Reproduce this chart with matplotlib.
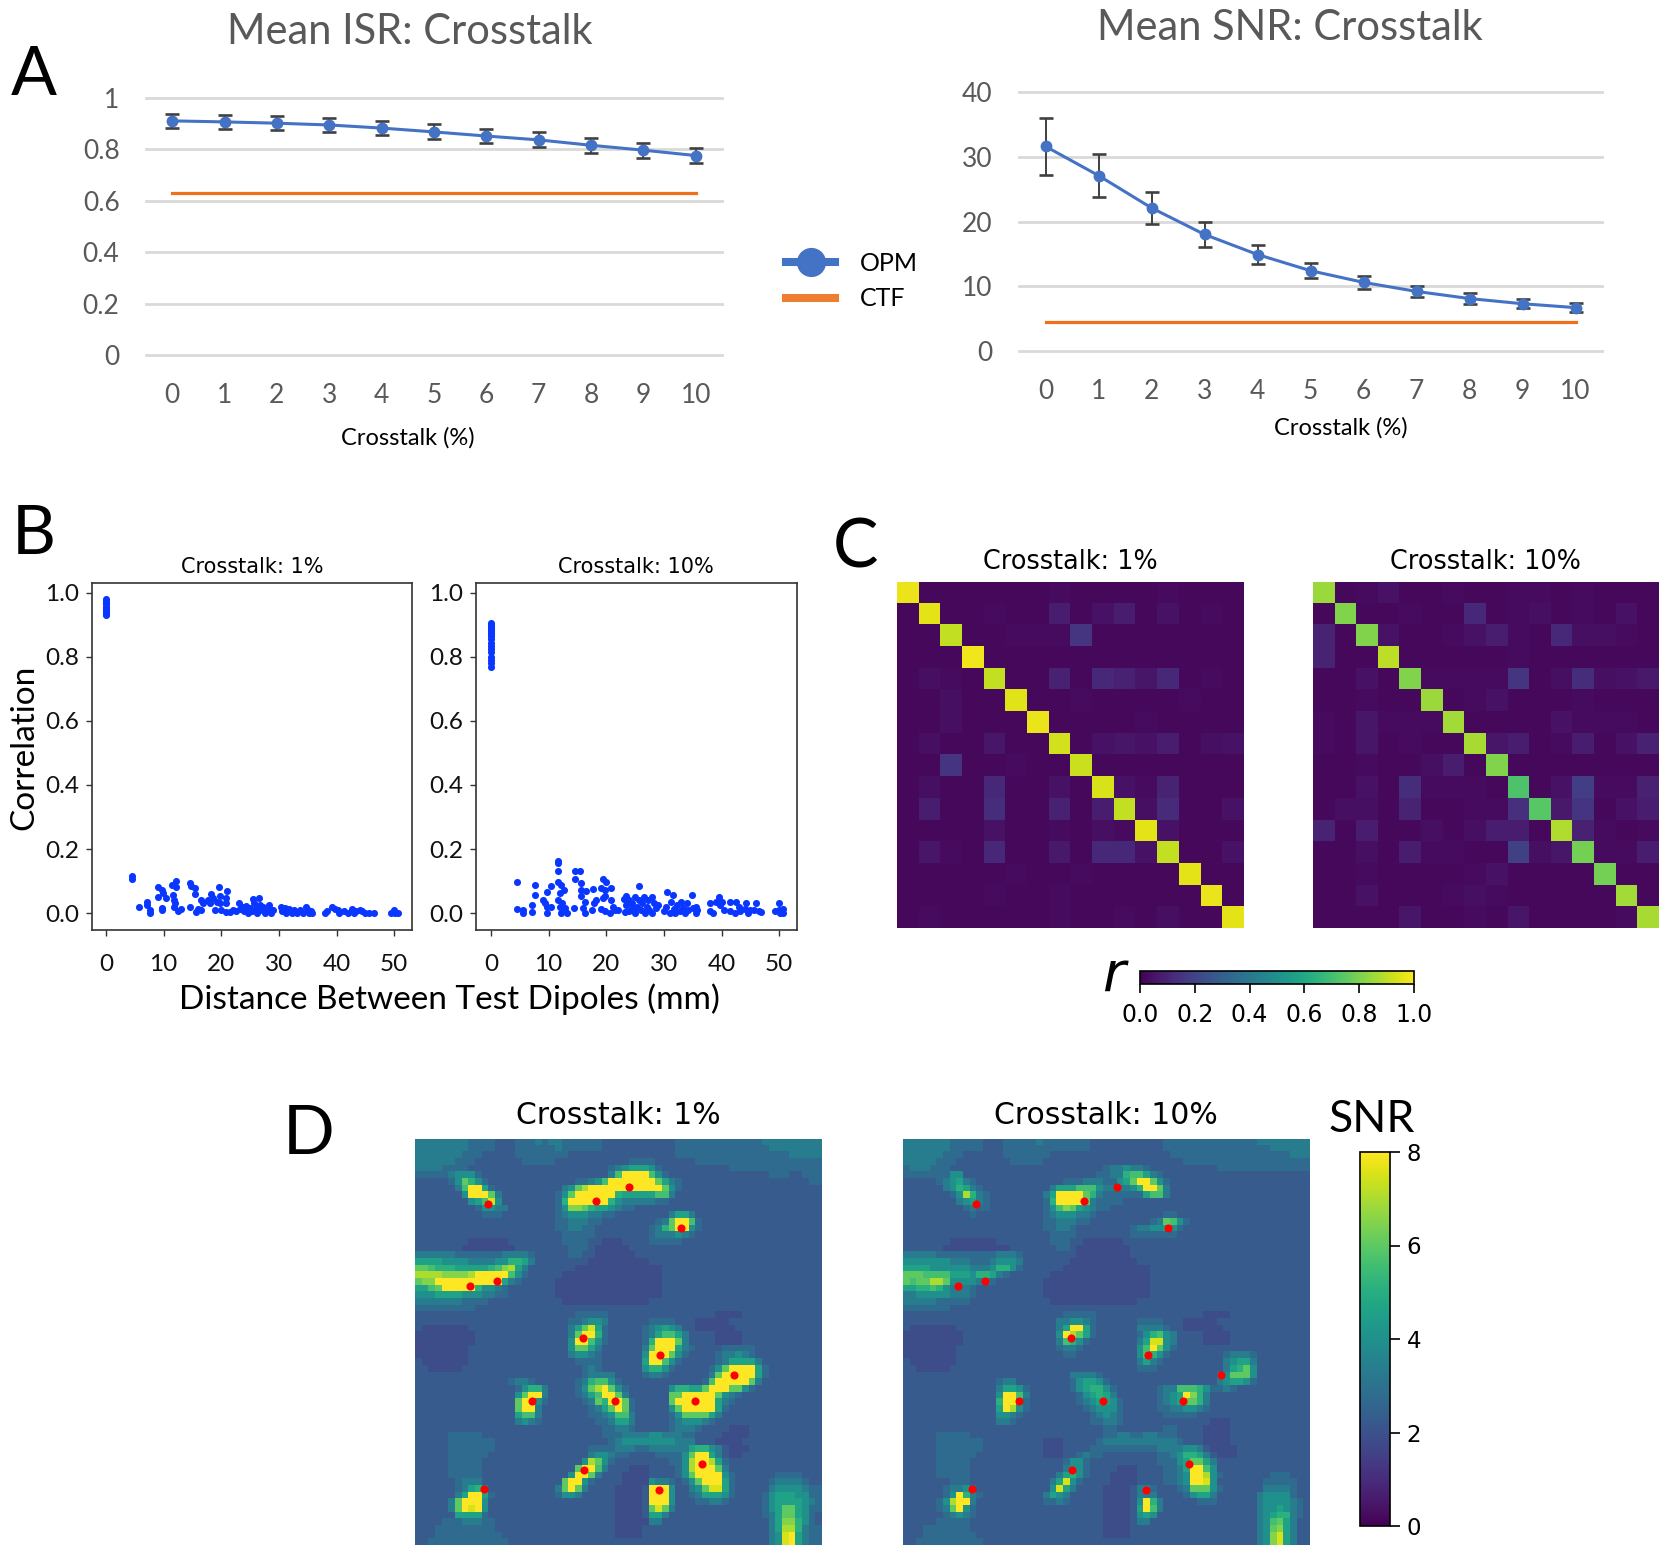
"""
plot.py
--------
Four panel crosstalk figure: ISR / SNR curves, correlation scatter,
correlation matrices and SNR maps.
"""

import matplotlib
matplotlib.use("Agg")

import matplotlib.pyplot as plt
import numpy as np
from matplotlib.lines import Line2D

FIG_W = 1666
FIG_H = 1555

CROSSTALK = [0, 1, 2, 3, 4, 5, 6, 7, 8, 9, 10]

ISR_OPM = [0.911, 0.907, 0.902, 0.895, 0.883, 0.868, 0.852, 0.837, 0.816, 0.797, 0.776]
ISR_ERR = [0.027, 0.027, 0.027, 0.027, 0.028, 0.029, 0.029, 0.029, 0.029, 0.029, 0.029]
ISR_CTF = [0.63] * 11

SNR_OPM = [31.6, 27.1, 22.1, 18.0, 14.9, 12.4, 10.6, 9.2, 8.1, 7.3, 6.7]
SNR_ERR = [4.4, 3.3, 2.45, 1.9, 1.5, 1.2, 1.0, 0.9, 0.8, 0.7, 0.65]
SNR_CTF = [4.55] * 11

ISR_TICKS = [0, 0.2, 0.4, 0.6, 0.8, 1]
ISR_TICK_LABELS = ["0", "0.2", "0.4", "0.6", "0.8", "1"]
SNR_TICKS = [0, 10, 20, 30, 40]

DIST_1 = [0, 0, 0, 0, 0, 0, 0, 0, 0, 0,
          4.5, 4.5, 5.7, 7.2, 7.2, 7.6, 7.6, 9.0, 9.0, 9.7, 9.7, 9.7, 9.9, 10.4,
          11.5, 11.6, 11.75, 11.75, 12.2, 12.2, 12.0, 12.5, 13.1, 14.5, 14.6, 14.7,
          15.45, 15.45, 15.7, 16.0, 16.4, 16.55, 16.8, 17.7, 18.1, 18.3, 18.6, 19.0,
          19.2, 19.6, 19.7, 19.7, 20.0, 20.8, 20.9, 21.0, 20.9, 21.5,
          22, 22.5, 23, 23.3, 23.7, 24, 24.3, 24.6, 25, 25.3, 25.5, 25.7, 26, 26.2,
          26.5, 26.8, 27, 27.3, 27.6, 28, 28.2, 28.4, 28.7, 29, 30.3, 30.6, 31, 31.3,
          31.8, 32.2, 32.7, 33.2, 33.7, 34.2, 34.7, 35, 35.3, 35.8, 35.5,
          38, 38.3, 39.2, 39.7, 40.3, 40.5, 41.3, 42, 42.7, 43, 43.3, 44, 44.5, 45,
          45.7, 46.5, 49.5, 50, 50.2, 50.6]
CORR_1 = [0.93, 0.935, 0.94, 0.945, 0.95, 0.955, 0.965, 0.97, 0.975, 0.98,
          0.115, 0.106, 0.02, 0.036, 0.026, 0.008, 0, 0.081, 0.05, 0.073, 0.016, 0.008, 0.063, 0.047,
          0.088, 0.057, 0.04, 0.019, 0.099, 0.08, 0.031, 0.005, 0.012, 0.018, 0.094, 0.085,
          0.078, 0.059, 0.002, 0.012, 0.01, 0.042, 0.031, 0.042, 0.031, 0.06, 0.047, 0.01,
          0.036, 0.081, 0.052, 0.031, 0.01, 0.047, 0.031, 0.07, 0.002, 0.002,
          0.01, 0.005, 0.03, 0.012, 0.02, 0.005, 0.022, 0, 0.015, 0.005, 0.045, 0.03, 0.012, 0,
          0.047, 0.025, 0.008, 0.018, 0, 0.005, 0.025, 0.012, 0, 0.008, 0.02, 0.005, 0.015, 0,
          0.012, 0, 0.01, 0, 0.008, 0, 0.018, 0.008, 0, 0, 0.006,
          0, 0.005, 0.018, 0.012, 0.008, 0, 0.005, 0, 0.012, 0, 0.005, 0.008, 0.005, 0,
          0, 0, 0, 0.008, 0, 0]

DIST_10 = [0] * 18 + [
    4.5, 4.5, 5.6, 5.6, 7.1, 7.1, 7.6, 7.6, 9, 9.3, 9.7, 9.7, 9.7, 10.5, 10.5,
    11.6, 11.6, 11.7, 11.7, 11.9, 11.6, 12.1, 12, 12.1, 12.4, 12.7, 12.9, 13.2, 14.4,
    14.5, 14.6, 15.4, 15.7, 15.7, 15.7, 16, 16.3, 16.3, 16.5,
    17.6, 17.65, 17.9, 18.3, 19.1, 19.1, 19.4, 19.5, 20, 19.8, 19.8, 19.8, 20.8, 20.9,
    20.7, 21.1, 21.5, 22.1, 23, 23.4, 23.3,
    23.5, 24, 24, 24.5, 24.5, 25, 25, 25.3, 25.6, 25.7, 26, 26.2, 26.5, 26.8, 27, 27.2,
    27.5, 28, 28, 28.3, 28.6, 29, 30, 30.3, 30.5, 31, 31.3, 31.5, 31.8, 32, 32.3, 32.8,
    33, 33.3, 33.6, 34, 34.2, 34.8, 35, 35.5, 35.6, 35.7,
    38, 38, 38.5, 39, 39.5, 39.8, 40, 40.5, 41.5, 41.5, 42.3, 42.5, 43, 43.2, 44, 44.3,
    44.6, 45, 45.7, 46, 46.5, 46.8, 49.2, 50, 50, 50.2, 50.7, 50.7]
CORR_10 = [0.77, 0.78, 0.79, 0.80, 0.815, 0.825, 0.835, 0.845, 0.855, 0.865, 0.87, 0.875,
           0.88, 0.885, 0.89, 0.895, 0.90, 0.905,
           0.096, 0.014, 0.008, 0, 0.024, 0.003, 0.089, 0.055, 0.04, 0.03, 0.066, 0, 0.019, 0.086, 0.019,
           0.161, 0.156, 0.13, 0.096, 0.063, 0.04, 0.089, 0.02, 0, 0.031, 0.073, 0.016, 0, 0.016,
           0.13, 0.106, 0.13, 0.094, 0.073, 0.052, 0.016, 0.033, 0, 0.07,
           0.01, 0.075, 0.031, 0.042, 0.078, 0.014, 0.047, 0.106, 0.096, 0.005, 0.073, 0.052, 0.042, 0.078,
           0, 0.02, 0.01, 0.01, 0.044, 0.052, 0.003,
           0.025, 0.04, 0.005, 0.015, 0.03, 0.05, 0, 0.02, 0.085, 0.04, 0.01, 0.03, 0.05, 0, 0.02, 0.04,
           0.008, 0.05, 0, 0.03, 0.015, 0.025, 0.005, 0.02, 0.065, 0, 0.035, 0.055, 0.012, 0, 0.025, 0.005,
           0.035, 0.015, 0, 0.03, 0.01, 0.055, 0.015, 0.02, 0, 0.008,
           0.03, 0.005, 0, 0.035, 0.05, 0.025, 0.035, 0.01, 0.035, 0.005, 0, 0.035, 0.02, 0.005, 0.012, 0.03,
           0, 0.01, 0.008, 0.03, 0.005, 0.002, 0.005, 0.03, 0.01, 0, 0.012, 0]

SCATTER_YTICKS = [0.0, 0.2, 0.4, 0.6, 0.8, 1.0]
SCATTER_XTICKS = [0, 10, 20, 30, 40, 50]

# correlation in percent
CORR_MATRIX_1 = [
    [97, 2, 2, 2, 2, 2, 2, 3, 2, 2, 2, 2, 3, 2, 2, 2],
    [2, 96, 2, 2, 3, 2, 2, 8, 2, 5, 8, 2, 5, 2, 3, 2],
    [2, 2, 91, 2, 2, 3, 3, 3, 15, 2, 2, 2, 2, 2, 2, 2],
    [2, 2, 2, 98, 2, 2, 2, 2, 2, 2, 2, 2, 2, 2, 2, 2],
    [2, 4, 3, 2, 91, 2, 2, 9, 2, 11, 9, 6, 11, 2, 3, 2],
    [2, 2, 4, 2, 2, 95, 2, 2, 3, 2, 2, 2, 2, 3, 2, 2],
    [2, 2, 4, 2, 2, 2, 97, 2, 2, 2, 2, 3, 2, 2, 2, 2],
    [2, 4, 2, 2, 6, 2, 2, 93, 2, 5, 6, 5, 8, 2, 4, 5],
    [2, 2, 15, 2, 2, 3, 2, 2, 92, 2, 2, 2, 2, 2, 2, 2],
    [2, 4, 2, 2, 11, 2, 2, 5, 2, 94, 5, 3, 10, 2, 2, 2],
    [2, 8, 2, 2, 13, 2, 2, 9, 2, 8, 91, 4, 12, 2, 2, 5],
    [2, 2, 2, 2, 5, 2, 2, 3, 2, 4, 3, 96, 5, 2, 2, 2],
    [2, 6, 3, 2, 11, 2, 2, 7, 2, 11, 11, 5, 91, 2, 2, 5],
    [2, 2, 2, 2, 2, 3, 2, 2, 3, 2, 2, 2, 2, 96, 2, 2],
    [2, 2, 2, 2, 3, 2, 2, 3, 2, 2, 2, 2, 2, 2, 97, 2],
    [2, 3, 2, 2, 2, 2, 2, 3, 2, 2, 3, 2, 4, 2, 2, 96],
]
CORR_MATRIX_10 = [
    [85, 2, 3, 5, 2, 2, 3, 2, 2, 3, 3, 2, 3, 2, 2, 2],
    [2, 81, 2, 2, 3, 2, 2, 11, 2, 3, 4, 2, 3, 2, 5, 2],
    [10, 2, 81, 5, 2, 2, 3, 5, 8, 3, 2, 11, 4, 4, 3, 2],
    [10, 2, 2, 90, 2, 2, 2, 2, 2, 3, 2, 2, 2, 2, 2, 2],
    [2, 2, 5, 2, 81, 3, 3, 3, 3, 15, 2, 4, 13, 4, 5, 7],
    [2, 2, 3, 2, 2, 85, 2, 3, 5, 2, 2, 2, 3, 2, 2, 2],
    [3, 2, 6, 3, 3, 3, 86, 2, 2, 2, 2, 5, 3, 3, 3, 2],
    [3, 2, 6, 2, 3, 2, 2, 87, 6, 8, 2, 3, 8, 2, 5, 9],
    [2, 2, 3, 2, 2, 4, 8, 2, 81, 2, 2, 2, 2, 2, 2, 2],
    [2, 2, 5, 2, 13, 3, 3, 3, 2, 72, 2, 5, 18, 3, 3, 9],
    [2, 4, 4, 2, 10, 2, 2, 3, 3, 14, 74, 7, 15, 2, 5, 8],
    [10, 2, 8, 2, 2, 4, 2, 4, 8, 8, 2, 88, 9, 3, 2, 3],
    [2, 2, 4, 2, 8, 3, 3, 2, 2, 19, 4, 6, 79, 3, 3, 8],
    [2, 2, 3, 2, 2, 2, 2, 3, 5, 2, 2, 2, 2, 79, 2, 2],
    [2, 2, 5, 2, 2, 2, 3, 4, 3, 2, 2, 2, 2, 2, 86, 2],
    [2, 2, 2, 2, 6, 2, 2, 3, 2, 6, 2, 2, 2, 2, 3, 87],
]

# SNR maps read cell by cell, one character per cell, see SNR_CODES
SNR_CODES = "456789abcdefg"
SNR_LEVELS = [1.9, 2.3, 2.8, 3.4, 4.0, 4.6, 5.1, 5.6, 6.0, 6.5, 7.0, 7.5, 8.0]

SNR_ROWS_1 = [
    "7777777766 6655566676 7766666655 5555555556 6666666666 66777777777",
    "7777777766 6655566666 6766666655 5555555556 6666666666 66677777777",
    "7777777666 5555566666 6665555555 5555555556 6666666666 66666677777",
    "7777776665 5555556666 6555555555 5566665555 5566666666 66666666666",
    "7777666655 5555555555 5555555556 7899986555 5555555666 66666666666",
    "6666678886 5555555555 5555555557 bggggb8655 5555555555 55566655666",
    "5555568ca8 6555555555 55556678bg ggggggc976 5555555555 55555555566",
    "5555557bgg 9655555555 5578cegggg gggggggc86 5555555555 55555555555",
    "55555558gg gc75555555 568cgggggg a99999bb75 5555555555 55555555555",
    "5555555589 bf85555555 56agggggga 8777776655 5555555555 55555555555",
    "5555555556 8877555555 568ddca998 7665555555 5555555555 55555555555",
    "5555555555 6665555555 5678887766 5555555579 9755555555 55555555555",
    "5555555555 5555555555 5667776655 55555567cg gb65555555 55555555555",
    "5555555555 5555555555 5667766555 5555567acg g865555555 55555555555",
    "5555555555 5555555555 5566666555 5555567778 7655555555 55555555555",
    "5555555544 4444555555 5566665544 4555566666 5555555555 55555555555",
    "5555555444 4444455555 5556665444 4455555555 5555555555 55555555555",
    "7777776666 6667777655 5556655444 4445555555 5555555555 55555555555",
    "9999888877 7788aa9755 5555554444 4444455555 5555555555 55555555555",
    "ccbaaa9999 9abde97555 5555444444 4444444555 5555555555 55555555555",
    "eeeeddddeg ggggb86555 5544444444 4444444555 5555555555 55555555555",
    "cddggggggg ggg9765555 5444444444 4444444555 5555555555 55555555555",
    "99bcggggga 8876555555 5444444444 4444444555 5555555555 55555555555",
    "8889999888 7766555555 5444444444 4444444555 5555555555 55555555555",
    "7777777666 6555555555 5544444444 4444455555 5555555555 55555555555",
    "6666666665 5555555555 5555555555 5555555555 5555555555 55555555555",
    "5555555555 5555555555 5555666665 5555555555 5555544445 55555555555",
    "5555555555 5555555555 5556678875 5555566665 5544444555 55555555555",
    "5444444455 5555555555 55579cf965 5555678987 5544444455 55555555555",
    "4444444445 5555555555 5557cgga65 5555679bb9 7555544445 55555555555",
    "4444444445 5555555555 5558ggb865 55556agggc 7555544445 55555555555",
    "4444444455 5555555555 5558cc9755 55557cggg9 7655556666 65555555555",
    "4444444455 5555555555 5557887655 55558gggc8 6555567787 65555555555",
    "5444444455 5555555555 5555666655 55559ggb86 5555567999 97555555555",
    "5544444555 5555555555 5555567655 55558aa865 555568cggg g9655555555",
    "5555555555 5555555555 5555567777 5555677655 55557cgggg g9655555555",
    "5555555555 5555677655 555567abb8 6555555555 5556bggggg c7555555555",
    "5555555555 5555568aa7 555568cegc 865555558a a99cgggcc8 65555555555",
    "5555555555 555558cgg7 5555679bgg c7555555cc gggggc8765 55555555555",
    "5555555555 55555cgg86 5555567cag gc655555cg ggggg97655 55555555555",
    "5555555555 55555cgg75 555555679c gc6555558c ggggg96555 55555555555",
    "5555555555 555559bb75 5555556678 bb75555568 cccc975555 55555555555",
    "5555555555 5555578765 5555555667 9975555567 8887655555 55555555555",
    "5555555555 5555555555 5555555566 7765555567 7765555444 55555555555",
    "5555566666 5555555555 5555555566 6777788777 6655554444 55555555555",
    "5555566666 6655555555 5555555556 7888888887 7755544445 55555555555",
    "5555566666 6655555555 5555556666 7776677777 79aa875444 55555555555",
    "5555566666 6555555555 5555557887 6655556666 8cgg975445 55555555555",
    "5555566666 5555555555 555558ec86 5555555566 8egge96555 55555555555",
    "5555566666 5555555555 5555cggb75 5544455556 8egggc7555 55555555555",
    "5555566666 5555555555 5558ggc755 5444455556 8cgggg8655 55556666555",
    "5555556777 5555555555 55cgg86555 5444487765 68cggg9655 55567777655",
    "555555679a 7555555555 57cgc75555 44445ggg85 578cff9655 55578888766",
    "55555579gg 9655555555 5688755555 44445ggg85 5679998655 55689998866",
    "555557cggg 8555555555 5555555555 44445ggg85 5566776555 55689999876",
    "555557cgfg 8555555555 5555555555 44445cfc75 5555555555 55689cc9866",
    "5555559999 6555555555 5555555555 4444599755 5555555555 55679cc9865",
    "5555666777 6655555555 5555555555 4444477555 5555555555 55579dda865",
    "5556666666 6655555555 5555555555 4444555555 5555555555 55579eea766",
    "5556666666 6665555555 5555555555 4444555555 5555555555 55578fg9766",
    "5566666666 6666555555 5555555555 5555555555 5555555555 55578fg9766",
]
SNR_ROWS_10 = [
    "7777777666 6655566666 7666666655 5555555556 6666666666 66677777777",
    "7777777666 6655566666 6666666655 5555555556 6666666666 66666777777",
    "7777776665 5555566666 6655555555 5555555555 6666666666 66666666777",
    "7777766655 5555556666 6555555555 5555555555 5566666666 66666666666",
    "6777666555 5555555555 5555555555 6778776555 5555555666 66666666666",
    "6666666885 5555555555 5555555556 677abb9765 5555555555 55555555555",
    "5555567897 6555555555 5555666777 6689cggc86 5555555555 55555555555",
    "5555557 8a9 7655555555 557999bbb8 77778aggc7 5555555555 55555555555",
    "555555568e a765555555 579ggggca7 6666669bb7 5555555555 55555555555",
    "5555555578 9765555555 56aggggc76 6665555555 5555555555 55555555555",
    "5555555556 7665555555 568bdc9876 6555555555 5555555555 55555555555",
    "5555555555 6555555555 5678887765 5555555556 6555555555 55555555555",
    "5555555555 5555555555 5667776655 555555567c b865555555 55555555555",
    "5555555555 5555555555 5667765555 5555677889 8655555555 55555555555",
    "5555555555 5555555555 5566665555 5555666666 6555555555 55555555555",
    "5555555444 4444555555 5566655444 4445555555 5555555555 55555555555",
    "5555554444 4444445555 5556654444 4444555555 5555555555 55555555555",
    "7777766666 6666777655 5555554444 4444555555 5555555555 55555555555",
    "8888888777 6667888755 5555544444 4444455555 5555555555 55555555555",
    "9999888888 7778aa8655 5555444444 4444444555 5555555555 55555555555",
    "cccbbbb999 8aa9765555 5544444444 4444444555 5555555555 55555555555",
    "cbcceec888 8776555555 5444444444 4444444555 5555555555 55555555555",
    "99aaba8777 6555555555 5444444444 4444444555 5555555555 55555555555",
    "7788888777 6555555555 5444444444 4444444555 5555555555 55555555555",
    "7777766666 5555555555 5544444444 4444455555 5555555555 55555555555",
    "6666666555 5555555555 5555555555 5555555555 5555555555 55555555555",
    "5555555555 5555555555 5555666665 5555555555 5555544445 55555555555",
    "5555555555 5555555555 5557788765 5555566665 5544444555 55555555555",
    "5444444455 5555555555 55579gg965 5555577776 5544444455 55555555555",
    "4444444445 5555555555 5558gec965 5555568ab8 7555544445 55555555555",
    "4444444445 5555555555 5557ba8655 5555579ff8 7555544445 55555555555",
    "4444444455 5555555555 5556776555 555558bgc8 6555555555 55555555555",
    "4444444455 5555555555 5555665555 555558ba86 5555555567 77655555555",
    "5444444455 5555555555 5555555555 5555579765 5555555578 99755555555",
    "5544444555 5555555555 5555555555 5555566655 5555555579 ac855555555",
    "5555555555 5555555555 5555577776 5555555555 555555578c cc855555555",
    "5555555555 5555677555 5555568998 6555555555 5555555789 98655555555",
    "5555555555 5555799865 555556 89aa 8655555567 7bbba86676 55555555555",
    "5555555555 55558ggb75 555555689a 9755555567 89gda75555 55555555555",
    "5555555555 5555agg965 5555556789 9865555567 89cca75555 55555555555",
    "5555555555 55559ge865 5555555678 8865555566 7788765555 55555555555",
    "5555555555 5555887655 5555555567 8765555556 6666555555 55555555555",
    "5555555555 5555776555 5555555566 7765555555 5555554445 55555555555",
    "5555555555 5555555555 5555555555 6655555556 6555544445 55555555555",
    "5555566666 5555555555 5555555555 6677667766 6555544445 55555555555",
    "5555566666 6655555555 5444555556 7777777777 7655544445 55555555555",
    "5555566666 6655555555 5444555566 6666666677 7788754444 55555555555",
    "5555566666 6555555555 5444556766 5555555566 78aa975444 55555555555",
    "5555566666 5555555555 5555688655 5555555566 689cc97555 55555555555",
    "5555566666 5555555555 5555788655 5544455556 679ggb8555 55555555555",
    "5555566666 5555555555 55579a8655 5444455556 678gge8655 55555666555",
    "5555555666 5555555555 5579f86555 5444455556 678ggf8555 55556666655",
    "5555556778 6555555555 558f975555 4444577655 567ccc8655 55557777655",
    "55555568ga 7655555555 5798755555 4444577755 5568997555 55578888655",
    "5555568egg 7555555555 5667655555 444458ga75 5555666555 55578888765",
    "5555567cg8 6555555555 5555555555 444459gb75 5555555555 55578898765",
    "5555556787 6555555555 5555555555 4444589855 5555555555 555789aa765",
    "5555566666 5555555555 5555555555 4444577555 5555555555 55578bc9755",
    "5556666666 5555555555 5555555555 4444555555 5555555555 55578cd9755",
    "5556666666 6555555555 5555555555 4444555555 5555555555 55578df9755",
    "5566666666 6655555555 5555555555 5555555555 5555555555 55578df9755",
]

DIPOLE_COL = [10.4, 26.65, 31.6, 39.35, 7.7, 11.85, 24.7, 36.25, 47.3, 17, 29.5, 41.5, 42.45, 24.9, 36, 9.85]
DIPOLE_ROW = [9.3, 8.85, 6.7, 12.8, 21.6, 20.8, 29.45, 31.9, 35, 38.9, 38.8, 38.9, 48.35, 49.2, 52.3, 52.15]

BLUE = "#4472C4"
ORANGE = "#ED7D31"
GRID = "#D9D9D9"
EXCEL_TEXT = "#595959"
SCATTER_BLUE = "#0A37FF"
EXCEL_FONT = "Lato"


def add_axes_px(fig, left, top, right, bottom):
    return fig.add_axes([left / FIG_W, 1 - bottom / FIG_H,
                         (right - left) / FIG_W, (bottom - top) / FIG_H])


def text_px(fig, x, y, label, **kwargs):
    kwargs.setdefault("ha", "center")
    kwargs.setdefault("va", "center")
    fig.text(x / FIG_W, 1 - y / FIG_H, label, **kwargs)


def parse_snr(rows):
    lookup = dict(zip(SNR_CODES, SNR_LEVELS))
    cells = []
    for row in rows:
        # one typo must not break the grid, rows are padded to the 61 cells
        clean = row.replace(" ", "").ljust(61, "5")[:61]
        cells.append([lookup[c] for c in clean])
    return np.array(cells)


def draw_curve(ax, opm, err, ctf, ticks, tick_labels, ymax):
    ax.errorbar(CROSSTALK, opm, yerr=err, color=BLUE, lw=2.2, marker="o", ms=7.5,
                ecolor="#404040", elinewidth=1.4, capsize=5.2, capthick=1.9,
                clip_on=False, zorder=3)
    ax.plot(CROSSTALK, ctf, color="#F0701A", lw=2.3, zorder=2, clip_on=False)
    ax.set_xlim(-0.5, 10.5)
    ax.set_ylim(0, ymax)
    ax.set_xticks(CROSSTALK)
    ax.set_yticks(ticks)
    ax.set_yticklabels(tick_labels)
    ax.grid(axis="y", color=GRID, lw=2.0, clip_on=False)
    ax.set_axisbelow(True)
    for spine in ax.spines.values():
        spine.set_visible(False)
    ax.tick_params(length=0, labelsize=19, labelcolor=EXCEL_TEXT, pad=19)
    ax.tick_params(axis="x", pad=20)
    for label in ax.get_xticklabels() + ax.get_yticklabels():
        label.set_fontfamily(EXCEL_FONT)


def draw_scatter(ax, dist, corr, xleft):
    ax.scatter(dist, corr, s=26, color=SCATTER_BLUE, linewidths=0, clip_on=False, zorder=3)
    ax.set_xlim(xleft, 53.1)
    ax.set_ylim(-0.053, 1.031)
    ax.set_xticks(SCATTER_XTICKS)
    ax.set_yticks(SCATTER_YTICKS)
    ax.set_yticklabels([f"{v:.1f}" for v in SCATTER_YTICKS])
    ax.tick_params(length=4, width=1.0, color="#333333", labelsize=17.5, labelcolor="#111111", pad=5)
    ax.tick_params(axis="x", pad=13)
    for label in ax.get_xticklabels() + ax.get_yticklabels():
        label.set_fontfamily(EXCEL_FONT)
    for spine in ax.spines.values():
        spine.set_linewidth(1.2)
        spine.set_color("#333333")


def main():

    fig = plt.figure(figsize=(FIG_W / 100, FIG_H / 100), dpi=100, facecolor="white")

    # panel A
    ax_isr = add_axes_px(fig, 146, 98, 722, 355)
    draw_curve(ax_isr, ISR_OPM, ISR_ERR, ISR_CTF, ISR_TICKS, ISR_TICK_LABELS, 1)

    ax_snr = add_axes_px(fig, 1019, 92, 1602, 351)
    draw_curve(ax_snr, SNR_OPM, SNR_ERR, SNR_CTF, SNR_TICKS, SNR_TICKS, 40)

    text_px(fig, 410, 32, "Mean ISR: Crosstalk", fontsize=30, color=EXCEL_TEXT, family=EXCEL_FONT)
    text_px(fig, 1290, 28, "Mean SNR: Crosstalk", fontsize=30, color=EXCEL_TEXT, family=EXCEL_FONT)
    text_px(fig, 408, 438, "Crosstalk (%)", fontsize=17, family=EXCEL_FONT)
    text_px(fig, 1341, 428, "Crosstalk (%)", fontsize=17, family=EXCEL_FONT)

    handles = [
        Line2D([], [], color=BLUE, lw=5.8, marker="o", ms=20, label="OPM"),
        Line2D([], [], color=ORANGE, lw=5.8, label="CTF"),
    ]
    fig.legend(handles=handles, loc="center left", bbox_to_anchor=(786 / FIG_W, 1 - 281 / FIG_H),
               frameon=False, numpoints=1, borderpad=0, borderaxespad=0,
               handlelength=1.96, handletextpad=1.0, labelspacing=0.5,
               prop={"family": EXCEL_FONT, "size": 18})

    # panel B
    ax_b1 = add_axes_px(fig, 92, 583, 412, 930)
    draw_scatter(ax_b1, DIST_1, CORR_1, -2.43)
    ax_b2 = add_axes_px(fig, 476, 583, 797, 930)
    draw_scatter(ax_b2, DIST_10, CORR_10, -2.6)

    text_px(fig, 252, 567, "Crosstalk: 1%", fontsize=15)
    text_px(fig, 636, 567, "Crosstalk: 10%", fontsize=15)
    text_px(fig, 24, 747, "Correlation", fontsize=24, rotation=90, family=EXCEL_FONT)
    text_px(fig, 449, 999, "Distance Between Test Dipoles (mm)", fontsize=24, family=EXCEL_FONT)

    # panel C
    ax_c1 = add_axes_px(fig, 897, 582, 1244, 928)
    im_c = ax_c1.imshow(np.array(CORR_MATRIX_1) / 100, cmap="viridis", vmin=0, vmax=1,
                        aspect="auto", interpolation="nearest")
    ax_c1.axis("off")
    ax_c2 = add_axes_px(fig, 1313, 582, 1659, 928)
    ax_c2.imshow(np.array(CORR_MATRIX_10) / 100, cmap="viridis", vmin=0, vmax=1,
                 aspect="auto", interpolation="nearest")
    ax_c2.axis("off")

    text_px(fig, 1070, 562, "Crosstalk: 1%", fontsize=18.4)
    text_px(fig, 1485, 562, "Crosstalk: 10%", fontsize=18.4)

    cax_r = add_axes_px(fig, 1140, 971, 1414, 984)
    cbar_r = fig.colorbar(im_c, cax=cax_r, orientation="horizontal")
    cbar_r.set_ticks([0.0, 0.2, 0.4, 0.6, 0.8, 1.0])
    cbar_r.ax.tick_params(length=6.5, width=1.2, labelsize=17, pad=7)
    cbar_r.outline.set_linewidth(1.2)
    text_px(fig, 1113, 975, "r", fontsize=40, style="italic", family="DejaVu Sans")

    # panel D
    ax_d1 = add_axes_px(fig, 415, 1139, 822, 1545)
    im_d = ax_d1.imshow(parse_snr(SNR_ROWS_1), cmap="viridis", vmin=0, vmax=8,
                        aspect="auto", interpolation="nearest")
    ax_d1.scatter(DIPOLE_COL, DIPOLE_ROW, s=34, color="#FF0000", linewidths=0, zorder=3)
    ax_d1.axis("off")

    ax_d2 = add_axes_px(fig, 903, 1139, 1309, 1545)
    ax_d2.imshow(parse_snr(SNR_ROWS_10), cmap="viridis", vmin=0, vmax=8,
                 aspect="auto", interpolation="nearest")
    ax_d2.scatter(DIPOLE_COL, DIPOLE_ROW, s=34, color="#FF0000", linewidths=0, zorder=3)
    ax_d2.axis("off")

    text_px(fig, 618, 1116, "Crosstalk: 1%", fontsize=21.5)
    text_px(fig, 1106, 1116, "Crosstalk: 10%", fontsize=21.5)

    cax_d = add_axes_px(fig, 1360, 1152, 1390, 1526)
    cbar_d = fig.colorbar(im_d, cax=cax_d)
    cbar_d.set_ticks([0, 2, 4, 6, 8])
    cbar_d.ax.tick_params(length=7, width=1.2, labelsize=16.5, pad=5)
    cbar_d.outline.set_linewidth(1.2)
    text_px(fig, 1372, 1119, "SNR", fontsize=32, family=EXCEL_FONT)

    # panel letters
    for letter, x, y in [("A", 34, 76), ("B", 34, 535), ("C", 855, 548), ("D", 309, 1135)]:
        text_px(fig, x, y, letter, fontsize=49, family=EXCEL_FONT)

    fig.savefig("out.png", dpi=100)


if __name__ == "__main__":
    main()
